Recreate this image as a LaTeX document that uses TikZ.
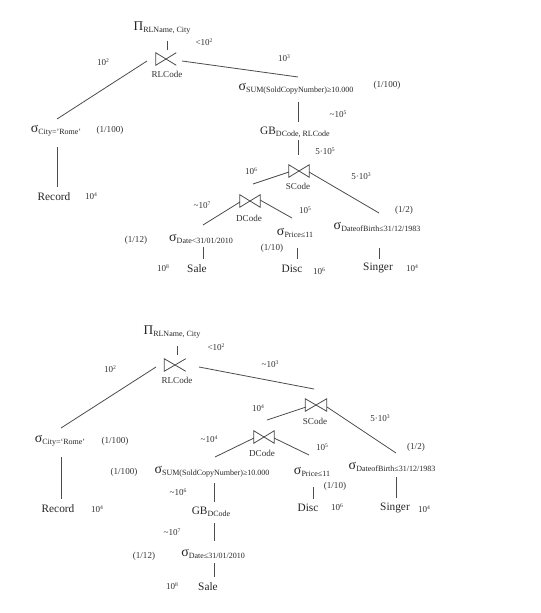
\documentclass[tikz,border=0pt]{standalone}
\usepackage{fontspec}
\setmainfont{Liberation Serif}
\usetikzlibrary{calc}
\newcommand{\opsig}[1]{{\fontsize{10.5}{11}\selectfont σ}\raisebox{-1.6pt}{\fontsize{6}{6}\selectfont #1}}
\newcommand{\oppi}[1]{{\fontsize{10}{11}\selectfont Π}\raisebox{-1.6pt}{\fontsize{6}{6}\selectfont #1}}
\newcommand{\opgb}[1]{{\fontsize{8.5}{10}\selectfont GB}\raisebox{-1.6pt}{\fontsize{6}{6}\selectfont #1}}
\newcommand{\pw}[2]{#1\raisebox{2.6pt}{\fontsize{4.2}{4.2}\selectfont #2}}
\newcommand{\drawjoin}[1]{\draw[conn] (#1.north west) -- (#1.south east) -- (#1.north east) -- (#1.south west) -- cycle;}
\newcommand{\drawjoinopen}[1]{\draw[conn] (#1.north east) -- (#1.south west) -- (#1.north west) -- (#1.south east);}
\tikzset{
  op/.style={inner sep=0pt, text=black!85, font=\fontsize{8.5}{10}\selectfont},
  lab/.style={inner sep=0pt, text=black!80, font=\fontsize{6.8}{8}\selectfont},
  joinbox/.style={inner sep=0pt, minimum width=15pt, minimum height=9pt},
  conn/.style={draw=black!70, line width=0.6pt}
}
\begin{document}
\begin{tikzpicture}[x=0.75pt,y=-0.75pt]
\useasboundingbox[fill=white] (0,0) rectangle (540,613);
% ---------------- top tree ----------------
\node[op] (pi1) at (162,28) {\oppi{RLName, City}};
\node[joinbox] (j1) at (166,59) {};
\drawjoinopen{j1}
\node[lab] (rl1) at (167,74) {RLCode};
\node[op] (sc1) at (56,131) {\opsig{City='Rome'}};
\node[op] (rec1) at (54,197) {Record};
\node[op] (ss1) at (296,89) {\opsig{SUM(SoldCopyNumber)≥10.000}};
\node[op] (gb1) at (295,132) {\opgb{DCode, RLCode}};
\node[joinbox] (js1) at (299,171) {};
\drawjoin{js1}
\node[lab] (sco1) at (298,186) {SCode};
\node[joinbox] (jd1) at (250,201) {};
\drawjoin{jd1}
\node[lab] (dco1) at (249,218) {DCode};
\node[op] (sd1) at (201,239) {\opsig{Date<31/01/2010}};
\node[op] (sale1) at (197,269) {Sale};
\node[op] (sp1) at (295,233) {\opsig{Price≤11}};
\node[op] (disc1) at (292,269) {Disc};
\node[op] (sb1) at (377,227) {\opsig{DateofBirth≤31/12/1983}};
\node[op] (singer1) at (378,268) {Singer};

\draw[conn] ($(pi1)+(5,13)$) -- ($(j1)+(1,-9)$);
\draw[conn] ($(j1)+(-19,2)$) -- ($(sc1)+(1,-12)$);
\draw[conn] ($(j1)+(16,2)$) -- ($(ss1)+(2,-12)$);
\draw[conn] ($(ss1)+(2,13)$) -- ($(gb1)+(3,-10)$);
\draw[conn] ($(gb1)+(3,8)$) -- ($(js1)+(-1,-16)$);
\draw[conn] ($(js1)+(-10,1)$) -- ($(jd1)+(3,-17)$);
\draw[conn] ($(js1)+(10,1)$) -- ($(sb1)+(2,-14)$);
\draw[conn] ($(jd1)+(10,-1)$) -- ($(sp1)+(-3,-15)$);
\draw[conn] ($(jd1)+(-10,1)$) -- ($(sd1)+(2,-14)$);
\draw[conn] ($(sd1)+(2,8)$) -- ($(sale1)+(6,-10)$);
\draw[conn] ($(sp1)+(2,15)$) -- ($(disc1)+(5,-10)$);
\draw[conn] ($(sb1)+(2,21)$) -- ($(singer1)+(1,-9)$);
\draw[conn] ($(sc1)+(1,16)$) -- ($(rec1)+(3,-10)$);

\node[lab] (t1) at (204,42) {<\pw{10}{2}};
\node[lab] (t2) at (103,62) {\pw{10}{2}};
\node[lab] (t3) at (284,58) {\pw{10}{3}};
\node[lab] (t4) at (110,130) {(1/100)};
\node[lab] (t5) at (387,85) {(1/100)};
\node[lab] (t6) at (338,114) {\textasciitilde\pw{10}{5}};
\node[lab] (t7) at (325,151) {5·\pw{10}{5}};
\node[lab] (t8) at (251,171) {\pw{10}{6}};
\node[lab] (t9) at (361,176) {5·\pw{10}{3}};
\node[lab] (t10) at (202,205) {\textasciitilde\pw{10}{7}};
\node[lab] (t11) at (305,210) {\pw{10}{5}};
\node[lab] (t12) at (404,210) {(1/2)};
\node[lab] (t13) at (136,240) {(1/12)};
\node[lab] (t14) at (272,248) {(1/10)};
\node[lab] (t15) at (163,268) {\pw{10}{8}};
\node[lab] (t16) at (319,271) {\pw{10}{6}};
\node[lab] (t17) at (412,268) {\pw{10}{4}};
\node[lab] (t18) at (91,196) {\pw{10}{4}};
% ---------------- bottom tree ----------------
\node[op] (pi2) at (172,332) {\oppi{RLName, City}};
\node[joinbox, minimum width=15.75pt] (j2) at (175,365) {};
\drawjoinopen{j2}
\node[lab] (rl2) at (177,380) {RLCode};
\node[op] (sc2) at (60,441) {\opsig{City=‘Rome’}};
\node[op] (rec2) at (58,509) {Record};
\node[joinbox, minimum width=15.75pt] (js2) at (316,405) {};
\drawjoin{js2}
\node[lab] (sco2) at (315,421) {SCode};
\node[joinbox] (jd2) at (264,437) {};
\drawjoin{jd2}
\node[lab] (dco2) at (262,453) {DCode};
\node[op] (ss2) at (212,472) {\opsig{SUM(SoldCopyNumber)≥10.000}};
\node[op] (gb2) at (211,512) {\opgb{DCode}};
\node[op] (sd2) at (213,554) {\opsig{Date≤31/01/2010}};
\node[op] (sale2) at (208,587) {Sale};
\node[op] (sp2) at (312,472) {\opsig{Price≤11}};
\node[op] (disc2) at (308,508) {Disc};
\node[op] (sb2) at (392,467) {\opsig{DateofBirth≤31/12/1983}};
\node[op] (singer2) at (395,508) {Singer};

\draw[conn] ($(pi2)+(5,14)$) -- ($(j2)+(2,-10)$);
\draw[conn] ($(j2)+(-19,2)$) -- ($(sc2)+(1,-13)$);
\draw[conn] ($(sc2)+(1,16)$) -- ($(rec2)+(3,-10)$);
\draw[conn] ($(j2)+(24,2)$) -- ($(js2)+(-2,-16)$);
\draw[conn] ($(js2)+(-10,2)$) -- ($(jd2)+(3,-17)$);
\draw[conn] ($(js2)+(11,2)$) -- ($(sb2)+(4,-14)$);
\draw[conn] ($(jd2)+(10,1)$) -- ($(sp2)+(-3,-17)$);
\draw[conn] ($(jd2)+(-10,1)$) -- ($(ss2)+(3,-15)$);
\draw[conn] ($(ss2)+(2,11)$) -- ($(gb2)+(3,-10)$);
\draw[conn] ($(gb2)+(3,11)$) -- ($(sd2)+(1,-13)$);
\draw[conn] ($(sd2)+(1,9)$) -- ($(sale2)+(6,-10)$);
\draw[conn] ($(sp2)+(1,15)$) -- ($(disc2)+(5,-9)$);
\draw[conn] ($(sb2)+(4,10)$) -- ($(singer2)+(1,-10)$);

\node[lab] (b1) at (216,347) {<\pw{10}{2}};
\node[lab] (b2) at (110,369) {\pw{10}{2}};
\node[lab] (b3) at (270,364) {\textasciitilde\pw{10}{3}};
\node[lab] (b4) at (258,408) {\pw{10}{4}};
\node[lab] (b5) at (380,418) {5·\pw{10}{3}};
\node[lab] (b6) at (416,447) {(1/2)};
\node[lab] (b7) at (322,447) {\pw{10}{5}};
\node[lab] (b8) at (209,439) {\textasciitilde\pw{10}{4}};
\node[lab] (b9) at (115,441) {(1/100)};
\node[lab] (b10) at (124,472) {(1/100)};
\node[lab] (b11) at (178,492) {\textasciitilde\pw{10}{6}};
\node[lab] (b12) at (172,532) {\textasciitilde\pw{10}{7}};
\node[lab] (b13) at (144,556) {(1/12)};
\node[lab] (b14) at (172,586) {\pw{10}{8}};
\node[lab] (b15) at (335,486) {(1/10)};
\node[lab] (b16) at (337,507) {\pw{10}{6}};
\node[lab] (b17) at (424,509) {\pw{10}{4}};
\node[lab] (b18) at (97,509) {\pw{10}{4}};
\end{tikzpicture}
\end{document}
